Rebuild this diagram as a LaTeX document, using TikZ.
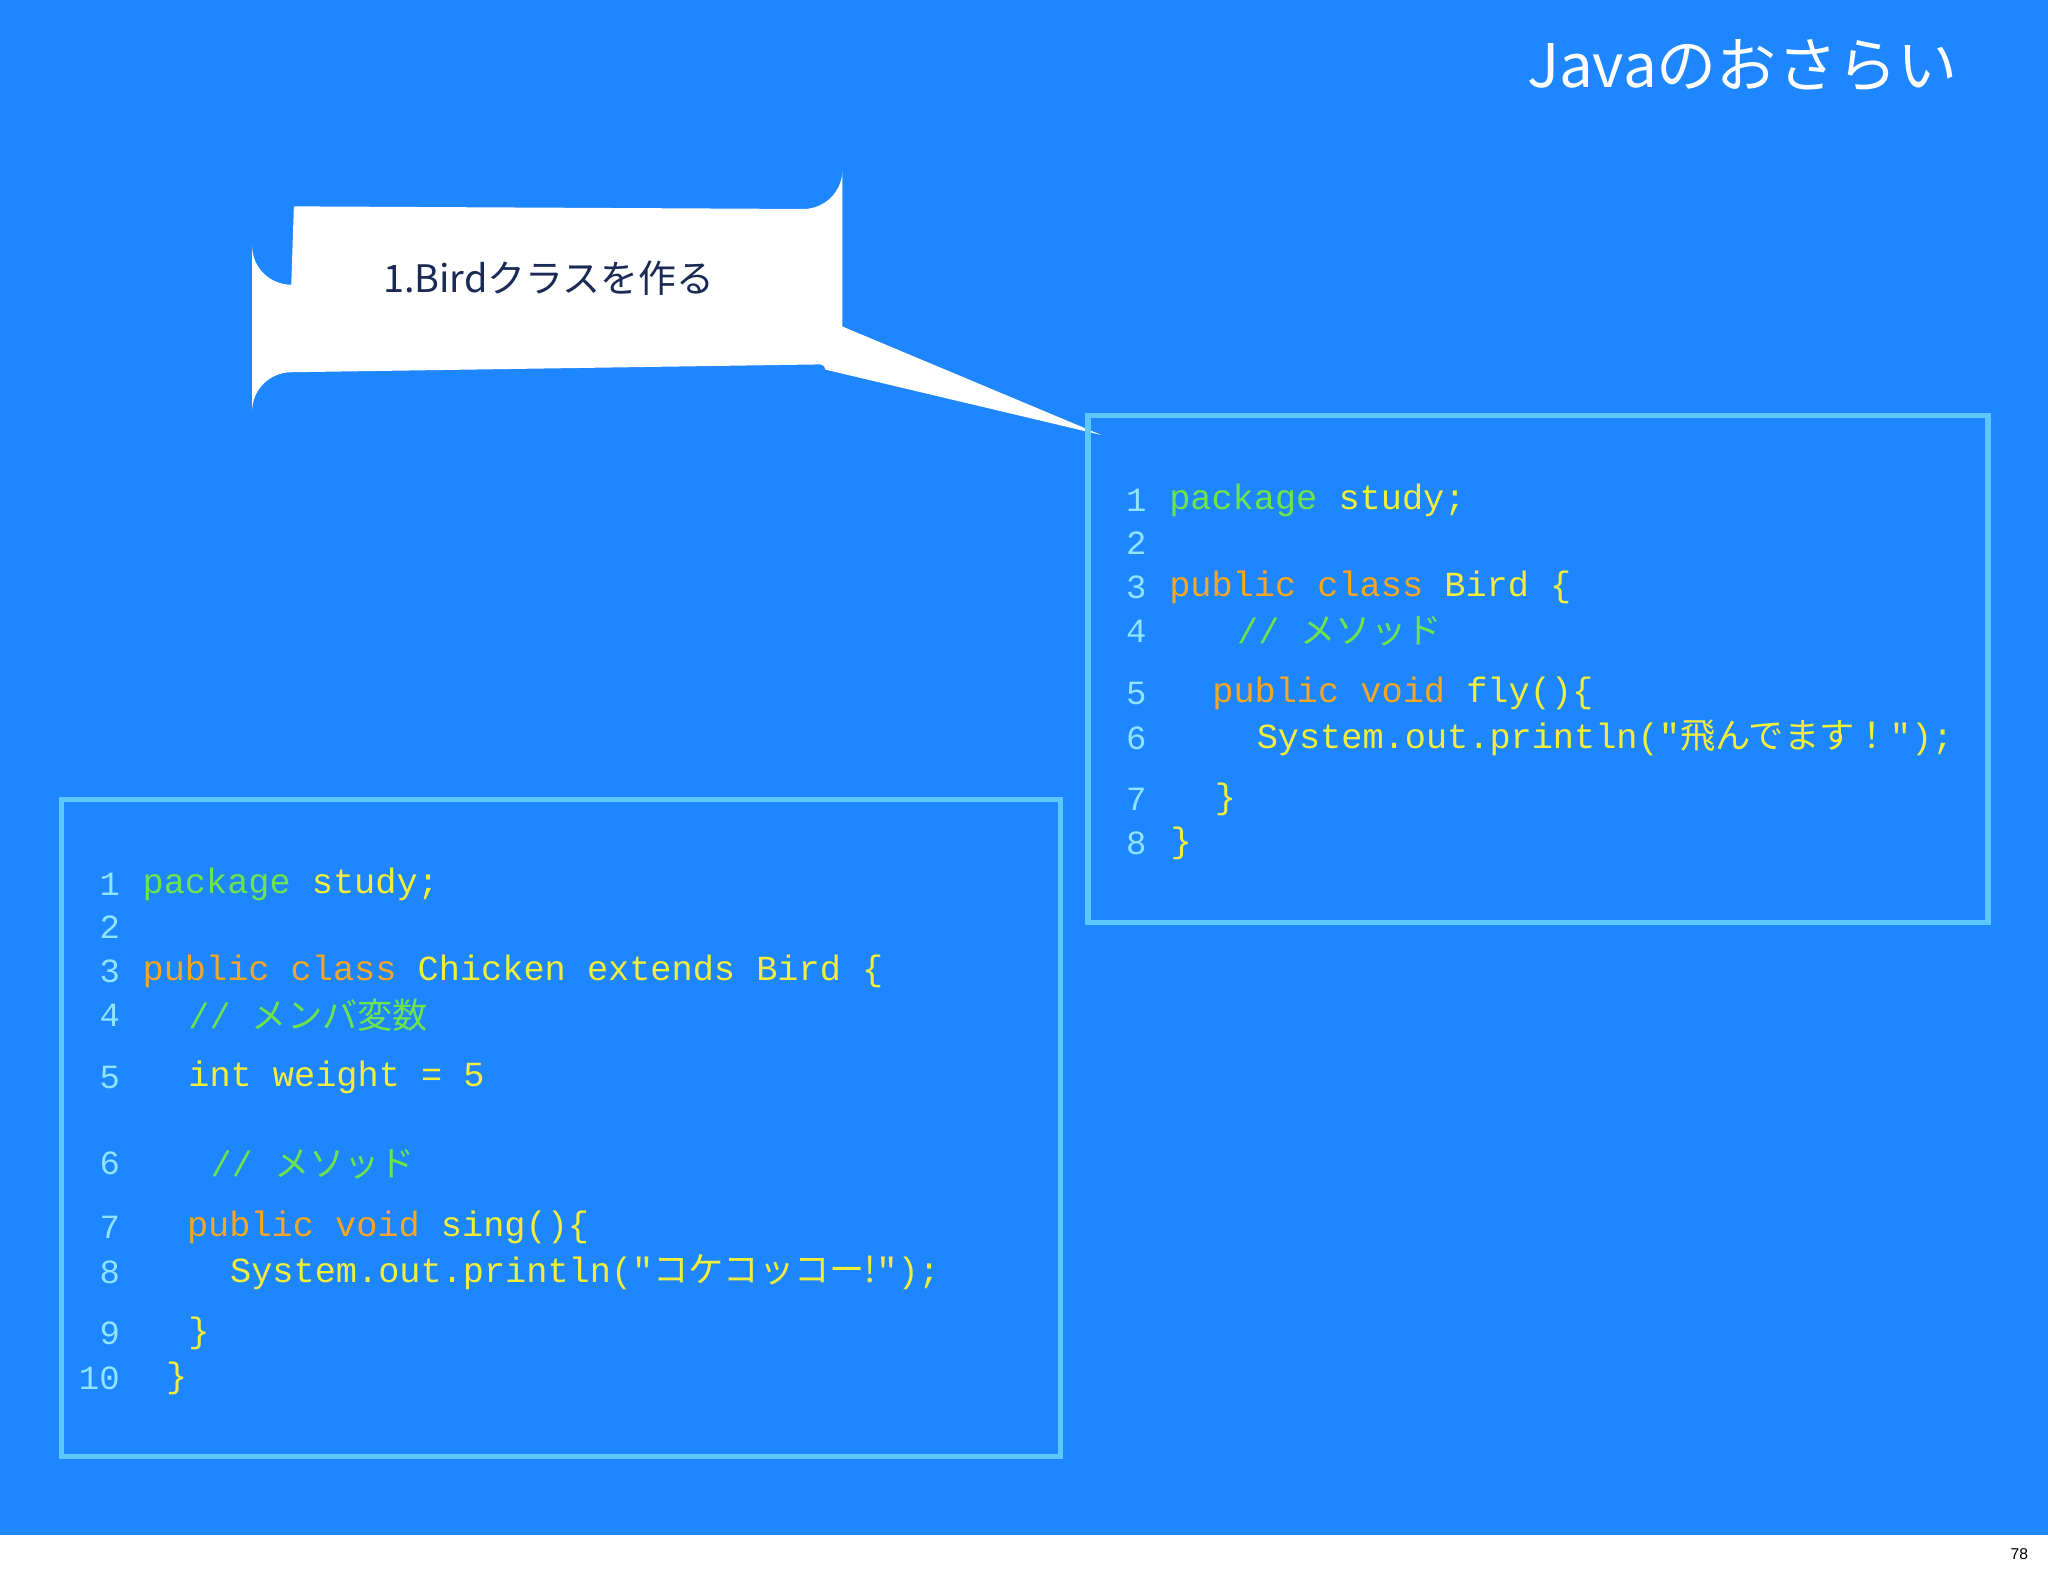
\documentclass[tikz,border=0pt]{standalone}
\usepackage{fontspec}
\setmainfont{Liberation Sans}
\setmonofont{Liberation Mono}
\newfontfamily\cj{Noto Sans CJK JP}
\definecolor{bg}{HTML}{1E86FF}
\definecolor{frame}{HTML}{5CC8FF}
\definecolor{num}{HTML}{8FE4FF}
\definecolor{kw}{HTML}{F5A623}
\definecolor{yl}{HTML}{F2EE3A}
\definecolor{gr}{HTML}{6EE34E}
\definecolor{navy}{HTML}{1A2A55}
\tikzset{
  ln/.style={anchor=center,text=num,font=\ttfamily\fontsize{26}{26}\selectfont,inner sep=0},
  cd/.style={anchor=west,text=yl,font=\ttfamily\fontsize{27}{27}\selectfont,inner sep=0},
  codebox/.style={draw=frame,line width=4pt}
}
\newcommand{\K}[1]{\textcolor{kw}{#1}}
\newcommand{\G}[1]{\textcolor{gr}{#1}}
\begin{document}
\begin{tikzpicture}[x=1pt,y=-1pt]
\useasboundingbox (0,0) rectangle (1568,1206);
\fill[white] (0,0) rectangle (1568,1206);
\fill[bg] (0,0) rectangle (1568,1175);
\node[anchor=east,text=white,font=\cj\fontsize{46}{46}\selectfont] (title) at (1502,50) {Javaのおさらい};
\node[font=\fontsize{12}{12}\selectfont] (pg) at (1546,1190) {78};
% callout
\fill[white] (225,158) -- (615,160) arc[start angle=90,end angle=0,radius=30] -- (645,250) -- (843,333) -- (632,283) arc[start angle=0,end angle=-90,radius=4] -- (223,285) arc[start angle=-90,end angle=-180,radius=30] -- (193,188) arc[start angle=180,end angle=90,radius=30] -- cycle;
\node[text=navy,font=\cj\fontsize{29}{29}\selectfont] (call) at (420,213) {1.Birdクラスを作る};
% right box
\draw[codebox] (833,318) rectangle (1522,706);
\foreach \n/\y in {1/383,2/416,3/450,4/483,5/531,6/565,7/612,8/646}
  \node[ln] (r\n) at (870,\y) {\n};
\node[cd] (rc1) at (895,383) {\G{package} study;};
\node[cd] (rc3) at (895,450) {\K{public class} Bird \{};
\node[cd] (rc4) at (947,483) {\G{// {\cj メソッド}}};
\node[cd] (rc5) at (928,531) {\K{public void} fly()\{};
\node[cd] (rc6) at (962,565) {System.out.println("{\cj 飛んでます！}");};
\node[cd] (rc7) at (930,612) {\}};
\node[cd] (rc8) at (896,646) {\}};
% left box
\draw[codebox] (47,612) rectangle (812,1115);
\foreach \n/\y in {1/677,2/710,3/744,4/777,5/825,6/891,7/940,8/974,9/1021}
  \node[ln] (l\n) at (84,\y) {\n};
\node[ln] (l10) at (76,1055) {10};
\node[cd] (lc1) at (109,677) {\G{package} study;};
\node[cd] (lc3) at (109,744) {\K{public class} Chicken extends Bird \{};
\node[cd] (lc4) at (144,777) {\G{// {\cj メンバ変数}}};
\node[cd] (lc5) at (144,825) {int weight = 5};
\node[cd] (lc6) at (161,891) {\G{// {\cj メソッド}}};
\node[cd] (lc7) at (143,940) {\K{public void} sing()\{};
\node[cd] (lc8) at (176,974) {System.out.println("{\cj コケコッコー!}");};
\node[cd] (lc9) at (144,1021) {\}};
\node[cd] (lc10) at (127,1055) {\}};
\end{tikzpicture}
\end{document}
